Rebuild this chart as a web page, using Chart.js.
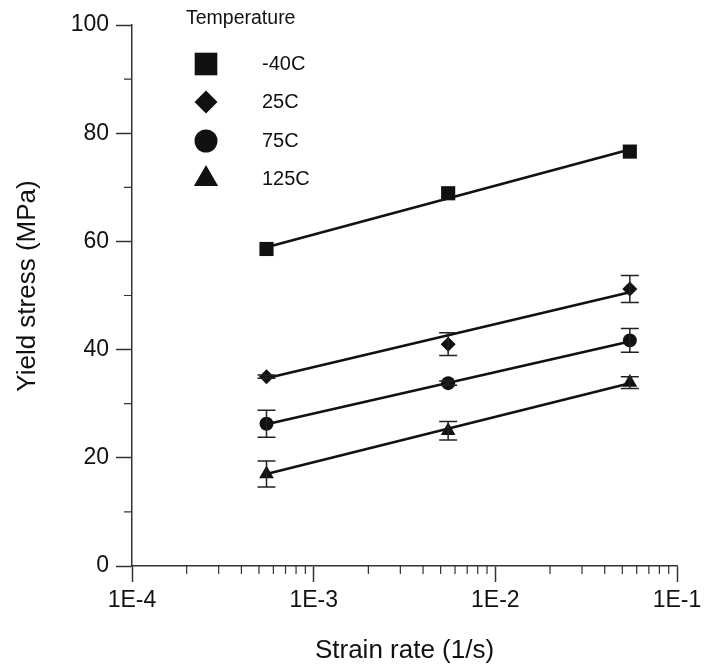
<!DOCTYPE html>
<html>
<head>
<meta charset="utf-8">
<script src="https://cdn.jsdelivr.net/npm/chart.js@4/dist/chart.umd.min.js"></script>
<style>
  html, body { margin: 0; padding: 0; background: #fff; }
  #wrap { width: 704px; height: 667px; }
</style>
</head>
<body>
<div id="wrap"><canvas id="yieldChart" width="704" height="667"></canvas></div>
<script>
// strain rate (1/s) of the three tests
const strainRates = [5.5e-4, 5.5e-3, 5.5e-2];
const temps = ['-40C', '25C', '75C', '125C'];
const markers = ['rect', 'rectRot', 'circle', 'triangle'];

// yield stress (MPa)
const stressM40 = [58.6, 68.9, 76.6];
const stress25 = [35.0, 41.0, 51.2];
const stress75 = [26.3, 33.8, 41.7];
const stress125 = [17.0, 25.0, 33.9];

// +/- error bar half heights (MPa)
const errM40 = [0, 0, 0];
const err25 = [0.3, 2.1, 2.5];
const err75 = [2.5, 0.4, 2.2];
const err125 = [2.4, 1.7, 1.1];

// fitted lines: value at first and last strain rate
const fitM40 = [58.9, 77.0];
const fit25 = [34.7, 50.6];
const fit75 = [26.2, 41.5];
const fit125 = [17.0, 33.8];

const xTicks = [1e-4, 1e-3, 1e-2, 1e-1];
const yTicks = [0, 20, 40, 60, 80, 100];

const stressSets = [stressM40, stress25, stress75, stress125];
const errSets = [errM40, err25, err75, err125];
const fitSets = [fitM40, fit25, fit75, fit125];
const markerRadius = [10, 7.5, 7, 8.5];

const ink = '#111';
const font = '"Liberation Sans", Arial, sans-serif';

const datasets = [];
temps.forEach((t, i) => {
  datasets.push({
    label: t,
    data: strainRates.map((x, j) => ({ x: x, y: stressSets[i][j] })),
    errors: errSets[i],
    showLine: false,
    pointStyle: markers[i],
    pointRadius: markerRadius[i],
    backgroundColor: ink,
    borderColor: ink,
    borderWidth: 0,
    order: 1,
  });
  datasets.push({
    label: t + ' fit',
    data: [
      { x: strainRates[0], y: fitSets[i][0] },
      { x: strainRates[strainRates.length - 1], y: fitSets[i][1] },
    ],
    showLine: true,
    pointRadius: 0,
    borderColor: ink,
    borderWidth: 2.6,
    order: 2,
  });
});

const errorBars = {
  id: 'errorBars',
  afterDatasetsDraw(chart) {
    const { ctx, scales } = chart;
    ctx.save();
    ctx.strokeStyle = '#222';
    ctx.lineWidth = 1.5;
    chart.data.datasets.forEach((ds) => {
      if (!ds.errors) return;
      ds.data.forEach((p, j) => {
        const e = ds.errors[j];
        if (!e) return;
        const x = scales.x.getPixelForValue(p.x);
        const top = scales.y.getPixelForValue(p.y + e);
        const bot = scales.y.getPixelForValue(p.y - e);
        ctx.beginPath();
        ctx.moveTo(x, top); ctx.lineTo(x, bot);
        ctx.moveTo(x - 9, top); ctx.lineTo(x + 9, top);
        ctx.moveTo(x - 9, bot); ctx.lineTo(x + 9, bot);
        ctx.stroke();
      });
    });
    ctx.restore();
  },
};

// minor ticks, y title and the temperature key
const extras = {
  id: 'extras',
  afterDraw(chart) {
    const { ctx, scales } = chart;
    const xs = scales.x, ys = scales.y;
    ctx.save();
    ctx.strokeStyle = '#333';
    ctx.lineWidth = 1.2;
    ctx.beginPath();
    for (let d = 0; d < xTicks.length - 1; d++) {
      for (let k = 2; k <= 9; k++) {
        const px = xs.getPixelForValue(xTicks[d] * k);
        ctx.moveTo(px, ys.bottom);
        ctx.lineTo(px, ys.bottom + 8);
      }
    }
    for (let v = 10; v < 100; v += 20) {
      const py = ys.getPixelForValue(v);
      ctx.moveTo(xs.left, py);
      ctx.lineTo(xs.left - 8, py);
    }
    ctx.stroke();

    ctx.fillStyle = ink;
    ctx.textAlign = 'center';
    ctx.textBaseline = 'middle';
    ctx.font = '26px ' + font;
    ctx.translate(28, 286);
    ctx.rotate(-Math.PI / 2);
    ctx.fillText('Yield stress (MPa)', 0, 0);
    ctx.setTransform(1, 0, 0, 1, 0, 0);

    const legendRadius = [16, 11.5, 11.5, 14];
    const rowY = [64, 102, 141, 179];
    ctx.textAlign = 'left';
    ctx.font = '19.5px ' + font;
    ctx.fillText('Temperature', 186, 19);
    temps.forEach((t, i) => {
      ctx.fillStyle = ink;
      ctx.strokeStyle = ink;
      Chart.helpers.drawPoint(ctx, {
        pointStyle: markers[i],
        radius: legendRadius[i],
        rotation: 0,
        borderWidth: 0,
      }, 206, rowY[i]);
      ctx.fillStyle = ink;
      ctx.font = '20px ' + font;
      ctx.fillText(t, 262, rowY[i]);
    });
    ctx.restore();
  },
};

new Chart(document.getElementById('yieldChart').getContext('2d'), {
  type: 'scatter',
  data: { datasets: datasets },
  options: {
    responsive: false,
    animation: false,
    layout: { padding: { left: 0, top: 25, right: 27, bottom: 0 } },
    plugins: {
      legend: { display: false },
      tooltip: { enabled: false },
    },
    scales: {
      x: {
        type: 'logarithmic',
        min: xTicks[0],
        max: xTicks[xTicks.length - 1],
        afterBuildTicks: (scale) => {
          scale.ticks = xTicks.map((v) => ({ value: v, major: true }));
        },
        afterFit: (scale) => {
          scale.height = 101;
          scale.paddingLeft = 0;
          scale.paddingRight = 0;
        },
        ticks: {
          color: ink,
          font: { family: font, size: 23 },
          padding: 5,
          maxRotation: 0,
          autoSkip: false,
          callback: (v) => '1E' + Math.round(Math.log10(v)),
        },
        grid: {
          drawOnChartArea: false,
          tickLength: 16,
          tickColor: '#333',
          tickWidth: 1.5,
        },
        border: { display: true, color: '#333', width: 1.5 },
        title: {
          display: true,
          text: 'Strain rate (1/s)',
          color: ink,
          font: { family: font, size: 26 },
          padding: { top: 0, bottom: 1 },
        },
      },
      y: {
        min: yTicks[0],
        max: yTicks[yTicks.length - 1],
        afterBuildTicks: (scale) => {
          scale.ticks = yTicks.map((v) => ({ value: v }));
        },
        afterFit: (scale) => {
          scale.width = 132;
          scale.paddingTop = 0;
          scale.paddingBottom = 0;
        },
        ticks: {
          color: ink,
          font: { family: font, size: 23 },
          padding: 7,
        },
        grid: {
          drawOnChartArea: false,
          tickLength: 16,
          tickColor: '#333',
          tickWidth: 1.5,
        },
        border: { display: true, color: '#333', width: 1.5 },
      },
    },
  },
  plugins: [errorBars, extras],
});
</script>
</body>
</html>
